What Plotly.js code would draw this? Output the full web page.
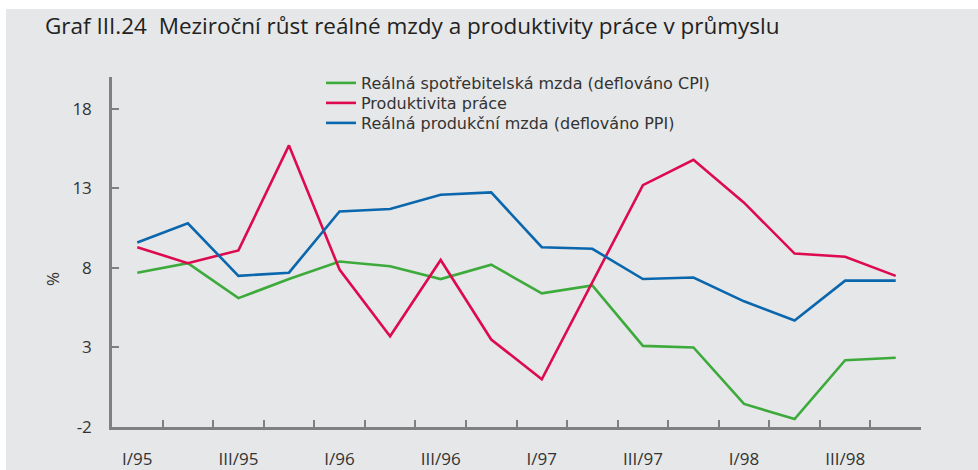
<!DOCTYPE html>
<html>
<head>
<meta charset="utf-8">
<script src="https://cdn.plot.ly/plotly-3.0.1.min.js"></script>
<style>
  html, body { margin: 0; padding: 0; background: #ffffff; }
  #chart { position: absolute; left: 6px; top: 9px; width: 972px; height: 461px; }
</style>
</head>
<body>
<div id="chart"></div>
<script>
// Quarters I/95 .. IV/98
var quarters = ['I/95','II/95','III/95','IV/95','I/96','II/96','III/96','IV/96',
                'I/97','II/97','III/97','IV/97','I/98','II/98','III/98','IV/98'];
var tickLabels = ['I/95','','III/95','','I/96','','III/96','','I/97','','III/97','','I/98','','III/98',''];

var realCPIWage = [7.7, 8.3, 6.1, 7.3, 8.4, 8.1, 7.3, 8.2, 6.4, 6.9, 3.1, 3.0, -0.55, -1.5, 2.2, 2.35];
var productivity = [9.3, 8.3, 9.1, 15.7, 7.9, 3.7, 8.5, 3.5, 1.0, 7.1, 13.2, 14.8, 12.1, 8.9, 8.7, 7.5];
var realPPIWage = [9.6, 10.8, 7.5, 7.7, 11.55, 11.7, 12.6, 12.75, 9.3, 9.2, 7.3, 7.4, 5.9, 4.7, 7.2, 7.2];

var yTicks = [-2, 3, 8, 13, 18];
var yTickLabels = ['-2', '3', '8', '13', '18'];

var names = ['Reálná spotřebitelská mzda (deflováno CPI)', 'Produktivita práce', 'Reálná produkční mzda (deflováno PPI)'];
var colors = ['#3daa3c', '#dd0a4f', '#0a67ae'];
var series = [realCPIWage, productivity, realPPIWage];
var legendIds = ['legend', 'legend2', 'legend3'];

var traces = series.map(function (s, i) {
  return {
    type: 'scatter', mode: 'lines', x: quarters, y: s, name: names[i],
    legend: legendIds[i],
    line: { color: colors[i], width: 2.6 }, hoverinfo: 'x+y'
  };
});

var font = 'Open Sans, Lato, sans-serif';
var legendFont = { family: 'DejaVu Sans, Open Sans, sans-serif', size: 16, color: '#333333' };
function legendAt(rowY) {
  return {
    x: (321 - 112) / 809, xanchor: 'left',
    y: (427 - rowY) / 350, yanchor: 'middle',
    bgcolor: 'rgba(0,0,0,0)', font: legendFont
  };
}

var layout = {
  width: 972, height: 461,
  paper_bgcolor: '#e6e7e8', plot_bgcolor: '#e6e7e8',
  margin: { l: 106, r: 57, t: 68, b: 43 },
  font: { family: font, color: '#333333', size: 17 },
  title: {
    text: 'Graf III.24\u00a0\u00a0Meziroční růst reálné mzdy a produktivity práce v průmyslu',
    x: 39 / 972, xanchor: 'left', xref: 'container',
    y: 1 - 17 / 461, yanchor: 'middle', yref: 'container',
    font: { family: font, size: 22.5, color: '#222222' }
  },
  showlegend: true,
  legend: legendAt(83),
  legend2: legendAt(103),
  legend3: legendAt(123),
  xaxis: {
    type: 'category', categoryorder: 'array', categoryarray: quarters,
    range: [-0.5, 15.5], tickmode: 'array', tickvals: quarters, ticktext: tickLabels,
    tickson: 'boundaries', ticks: 'inside', ticklen: 7, tickwidth: 2, tickcolor: '#808080',
    showline: true, linecolor: '#808080', linewidth: 2.5, showgrid: false, zeroline: false,
    ticklabelstandoff: 15, tickfont: { family: font, size: 17, color: '#333333' }
  },
  yaxis: {
    range: [-2, 20], tickmode: 'array', tickvals: yTicks, ticktext: yTickLabels,
    ticks: 'inside', ticklen: 7, tickwidth: 2, tickcolor: '#808080',
    showline: true, linecolor: '#808080', linewidth: 2.5, showgrid: false, zeroline: false,
    ticklabelstandoff: 14, tickfont: { family: font, size: 17, color: '#333333' }
  },
  annotations: [{
    text: '%', xref: 'paper', yref: 'paper', x: (52 - 112) / 809, y: (427 - 279) / 350,
    xanchor: 'center', yanchor: 'middle', showarrow: false, textangle: -90,
    font: { family: font, size: 17, color: '#333333' }
  }]
};

Plotly.newPlot('chart', traces, layout, { displayModeBar: false, staticPlot: false });
</script>
</body>
</html>
